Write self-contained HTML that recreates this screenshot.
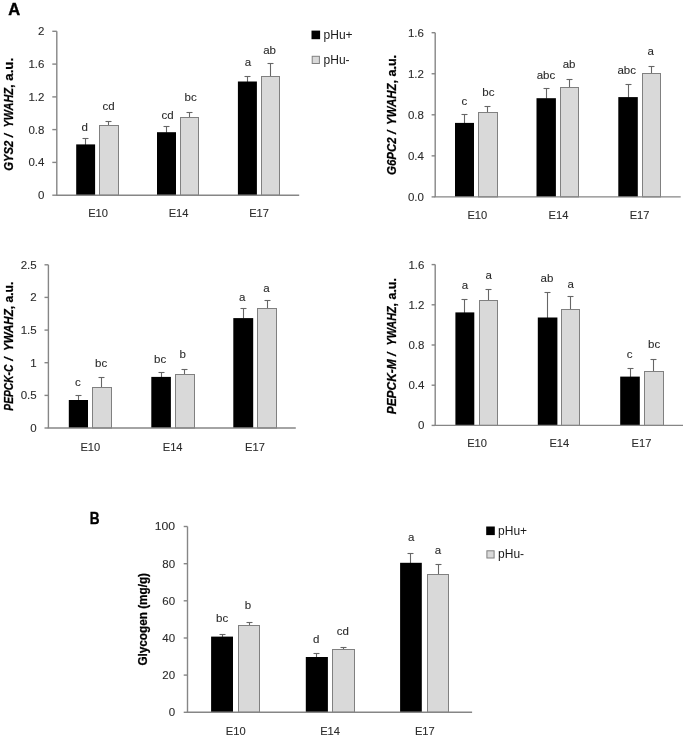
<!DOCTYPE html>
<html><head><meta charset="utf-8"><style>
html,body{margin:0;padding:0;background:#fff;}
body{width:685px;height:737px;overflow:hidden;}
svg{display:block;filter:grayscale(1);}
text{font-family:"Liberation Sans",sans-serif;}
.t{font-size:11.5px;fill:#2b2b2b;stroke:#2b2b2b;stroke-width:0.1px;}
.lg{font-size:12px;fill:#1a1a1a;}
.yt{font-size:12px;font-weight:bold;fill:#000;stroke:#000;stroke-width:0.25px;}
.pl{font-size:16.5px;font-weight:bold;fill:#000;stroke:#000;stroke-width:0.4px;}
.ax{stroke:#868686;stroke-width:1.4;fill:none;}
.e{stroke:#666666;stroke-width:1.1;fill:none;}
.g{fill:#d9d9d9;stroke:#808080;stroke-width:1;}
</style></head><body>
<svg width="685" height="737" viewBox="0 0 685 737">
<rect width="685" height="737" fill="#fff"/>
<line x1="52.3" y1="31.3" x2="56.8" y2="31.3" class="ax"/>
<text x="44.4" y="35.3" text-anchor="end" class="t">2</text>
<line x1="52.3" y1="64.1" x2="56.8" y2="64.1" class="ax"/>
<text x="44.4" y="68.1" text-anchor="end" class="t">1.6</text>
<line x1="52.3" y1="96.9" x2="56.8" y2="96.9" class="ax"/>
<text x="44.4" y="100.9" text-anchor="end" class="t">1.2</text>
<line x1="52.3" y1="129.6" x2="56.8" y2="129.6" class="ax"/>
<text x="44.4" y="133.6" text-anchor="end" class="t">0.8</text>
<line x1="52.3" y1="162.4" x2="56.8" y2="162.4" class="ax"/>
<text x="44.4" y="166.4" text-anchor="end" class="t">0.4</text>
<line x1="52.3" y1="195.2" x2="56.8" y2="195.2" class="ax"/>
<text x="44.4" y="199.2" text-anchor="end" class="t">0</text>
<line x1="85.5" y1="138.5" x2="85.5" y2="144.9" class="e"/>
<line x1="82.5" y1="138.5" x2="88.5" y2="138.5" class="e"/>
<rect x="76.2" y="144.4" width="18.9" height="50.8" fill="#000"/>
<text x="84.6" y="130.6" text-anchor="middle" class="t">d</text>
<line x1="108.5" y1="121.5" x2="108.5" y2="125.4" class="e"/>
<line x1="105.5" y1="121.5" x2="111.5" y2="121.5" class="e"/>
<rect x="99.5" y="125.5" width="19" height="69.7" class="g"/>
<text x="108.5" y="110.3" text-anchor="middle" class="t">cd</text>
<line x1="166.5" y1="126.5" x2="166.5" y2="132.7" class="e"/>
<line x1="163.5" y1="126.5" x2="169.5" y2="126.5" class="e"/>
<rect x="157" y="132.2" width="19" height="63" fill="#000"/>
<text x="167.7" y="118.5" text-anchor="middle" class="t">cd</text>
<line x1="189.5" y1="112.5" x2="189.5" y2="117.5" class="e"/>
<line x1="186.5" y1="112.5" x2="192.5" y2="112.5" class="e"/>
<rect x="180.5" y="117.5" width="18" height="77.7" class="g"/>
<text x="190.7" y="101" text-anchor="middle" class="t">bc</text>
<line x1="247.5" y1="76.5" x2="247.5" y2="82" class="e"/>
<line x1="244.5" y1="76.5" x2="250.5" y2="76.5" class="e"/>
<rect x="237.9" y="81.5" width="19" height="113.7" fill="#000"/>
<text x="248" y="66.2" text-anchor="middle" class="t">a</text>
<line x1="270.5" y1="63.5" x2="270.5" y2="76.9" class="e"/>
<line x1="267.5" y1="63.5" x2="273.5" y2="63.5" class="e"/>
<rect x="261.5" y="76.5" width="18" height="118.7" class="g"/>
<text x="269.6" y="53.7" text-anchor="middle" class="t">ab</text>
<line x1="56.8" y1="31.3" x2="56.8" y2="195.2" class="ax"/>
<line x1="56.1" y1="195.2" x2="299.2" y2="195.2" class="ax"/>
<text x="98.1" y="216.8" text-anchor="middle" class="t" textLength="19.8" lengthAdjust="spacingAndGlyphs">E10</text>
<text x="178.6" y="216.8" text-anchor="middle" class="t" textLength="19.8" lengthAdjust="spacingAndGlyphs">E14</text>
<text x="259.1" y="216.8" text-anchor="middle" class="t" textLength="19.8" lengthAdjust="spacingAndGlyphs">E17</text>
<text transform="translate(12.8,0) rotate(-90)" x="-170.7" y="0" class="yt" font-style="italic" textLength="30" lengthAdjust="spacingAndGlyphs">GYS2</text>
<text transform="translate(12.8,0) rotate(-90)" x="-135.6" y="0" class="yt" font-style="italic" text-anchor="middle">/</text>
<text transform="translate(12.8,0) rotate(-90)" x="-127.5" y="0" class="yt" font-style="italic" textLength="39.5" lengthAdjust="spacingAndGlyphs">YWAHZ</text>
<text transform="translate(12.8,0) rotate(-90)" x="-88" y="0" class="yt" textLength="30.1" lengthAdjust="spacingAndGlyphs">, a.u.</text>
<line x1="431.6" y1="32.7" x2="435.2" y2="32.7" class="ax"/>
<text x="423.9" y="36.7" text-anchor="end" class="t">1.6</text>
<line x1="431.6" y1="73.75" x2="435.2" y2="73.75" class="ax"/>
<text x="423.9" y="77.75" text-anchor="end" class="t">1.2</text>
<line x1="431.6" y1="114.8" x2="435.2" y2="114.8" class="ax"/>
<text x="423.9" y="118.8" text-anchor="end" class="t">0.8</text>
<line x1="431.6" y1="155.85" x2="435.2" y2="155.85" class="ax"/>
<text x="423.9" y="159.85" text-anchor="end" class="t">0.4</text>
<line x1="431.6" y1="196.9" x2="435.2" y2="196.9" class="ax"/>
<text x="423.9" y="200.9" text-anchor="end" class="t">0.0</text>
<line x1="464.5" y1="114.5" x2="464.5" y2="123.4" class="e"/>
<line x1="461.5" y1="114.5" x2="467.5" y2="114.5" class="e"/>
<rect x="455" y="122.9" width="19" height="74" fill="#000"/>
<text x="464.3" y="105.3" text-anchor="middle" class="t">c</text>
<line x1="487.5" y1="106.5" x2="487.5" y2="113" class="e"/>
<line x1="484.5" y1="106.5" x2="490.5" y2="106.5" class="e"/>
<rect x="478.5" y="112.5" width="19" height="84.4" class="g"/>
<text x="488.4" y="95.5" text-anchor="middle" class="t">bc</text>
<line x1="546.5" y1="88.5" x2="546.5" y2="98.7" class="e"/>
<line x1="543.5" y1="88.5" x2="549.5" y2="88.5" class="e"/>
<rect x="536.5" y="98.2" width="19.4" height="98.7" fill="#000"/>
<text x="546" y="79.2" text-anchor="middle" class="t">abc</text>
<line x1="569.5" y1="79.5" x2="569.5" y2="87.9" class="e"/>
<line x1="566.5" y1="79.5" x2="572.5" y2="79.5" class="e"/>
<rect x="560.5" y="87.5" width="18" height="109.4" class="g"/>
<text x="569.1" y="68.4" text-anchor="middle" class="t">ab</text>
<line x1="628.5" y1="84.5" x2="628.5" y2="97.6" class="e"/>
<line x1="625.5" y1="84.5" x2="631.5" y2="84.5" class="e"/>
<rect x="618.3" y="97.1" width="19.5" height="99.8" fill="#000"/>
<text x="626.7" y="74.1" text-anchor="middle" class="t">abc</text>
<line x1="651.5" y1="66.5" x2="651.5" y2="73.9" class="e"/>
<line x1="648.5" y1="66.5" x2="654.5" y2="66.5" class="e"/>
<rect x="642.5" y="73.5" width="18" height="123.4" class="g"/>
<text x="650.6" y="55.4" text-anchor="middle" class="t">a</text>
<line x1="435.2" y1="32.7" x2="435.2" y2="196.9" class="ax"/>
<line x1="434.5" y1="196.9" x2="680.7" y2="196.9" class="ax"/>
<text x="477.3" y="219.3" text-anchor="middle" class="t" textLength="19.8" lengthAdjust="spacingAndGlyphs">E10</text>
<text x="558.5" y="219.3" text-anchor="middle" class="t" textLength="19.8" lengthAdjust="spacingAndGlyphs">E14</text>
<text x="639.6" y="219.3" text-anchor="middle" class="t" textLength="19.8" lengthAdjust="spacingAndGlyphs">E17</text>
<text transform="translate(396,0) rotate(-90)" x="-174.9" y="0" class="yt" font-style="italic" textLength="37.5" lengthAdjust="spacingAndGlyphs">G6PC2</text>
<text transform="translate(396,0) rotate(-90)" x="-132.3" y="0" class="yt" font-style="italic" text-anchor="middle">/</text>
<text transform="translate(396,0) rotate(-90)" x="-124.9" y="0" class="yt" font-style="italic" textLength="41.3" lengthAdjust="spacingAndGlyphs">YWAHZ</text>
<text transform="translate(396,0) rotate(-90)" x="-83.6" y="0" class="yt" textLength="28.7" lengthAdjust="spacingAndGlyphs">, a.u.</text>
<line x1="44.5" y1="264.8" x2="48.4" y2="264.8" class="ax"/>
<text x="36.7" y="268.8" text-anchor="end" class="t">2.5</text>
<line x1="44.5" y1="297.4" x2="48.4" y2="297.4" class="ax"/>
<text x="36.7" y="301.4" text-anchor="end" class="t">2</text>
<line x1="44.5" y1="330.1" x2="48.4" y2="330.1" class="ax"/>
<text x="36.7" y="334.1" text-anchor="end" class="t">1.5</text>
<line x1="44.5" y1="362.7" x2="48.4" y2="362.7" class="ax"/>
<text x="36.7" y="366.7" text-anchor="end" class="t">1</text>
<line x1="44.5" y1="395.4" x2="48.4" y2="395.4" class="ax"/>
<text x="36.7" y="399.4" text-anchor="end" class="t">0.5</text>
<line x1="44.5" y1="428" x2="48.4" y2="428" class="ax"/>
<text x="36.7" y="432" text-anchor="end" class="t">0</text>
<line x1="78.5" y1="395.5" x2="78.5" y2="400.5" class="e"/>
<line x1="75.5" y1="395.5" x2="81.5" y2="395.5" class="e"/>
<rect x="68.8" y="400" width="19.2" height="28" fill="#000"/>
<text x="77.8" y="385.5" text-anchor="middle" class="t">c</text>
<line x1="101.5" y1="377.5" x2="101.5" y2="388" class="e"/>
<line x1="98.5" y1="377.5" x2="104.5" y2="377.5" class="e"/>
<rect x="92.5" y="387.5" width="19" height="40.5" class="g"/>
<text x="101.1" y="367.4" text-anchor="middle" class="t">bc</text>
<line x1="161.5" y1="372.5" x2="161.5" y2="377.4" class="e"/>
<line x1="158.5" y1="372.5" x2="164.5" y2="372.5" class="e"/>
<rect x="151.3" y="376.9" width="19.6" height="51.1" fill="#000"/>
<text x="160.1" y="363.3" text-anchor="middle" class="t">bc</text>
<line x1="184.5" y1="369.5" x2="184.5" y2="375.1" class="e"/>
<line x1="181.5" y1="369.5" x2="187.5" y2="369.5" class="e"/>
<rect x="175.5" y="374.5" width="19" height="53.5" class="g"/>
<text x="182.8" y="357.9" text-anchor="middle" class="t">b</text>
<line x1="243.5" y1="308.5" x2="243.5" y2="318.6" class="e"/>
<line x1="240.5" y1="308.5" x2="246.5" y2="308.5" class="e"/>
<rect x="233.3" y="318.1" width="19.9" height="109.9" fill="#000"/>
<text x="242.3" y="300.5" text-anchor="middle" class="t">a</text>
<line x1="267.5" y1="300.5" x2="267.5" y2="309.1" class="e"/>
<line x1="264.5" y1="300.5" x2="270.5" y2="300.5" class="e"/>
<rect x="257.5" y="308.5" width="19" height="119.5" class="g"/>
<text x="266.4" y="291.6" text-anchor="middle" class="t">a</text>
<line x1="48.4" y1="264.8" x2="48.4" y2="428" class="ax"/>
<line x1="47.7" y1="428" x2="295.8" y2="428" class="ax"/>
<text x="90.35" y="450.6" text-anchor="middle" class="t" textLength="19.8" lengthAdjust="spacingAndGlyphs">E10</text>
<text x="172.65" y="450.6" text-anchor="middle" class="t" textLength="19.8" lengthAdjust="spacingAndGlyphs">E14</text>
<text x="255" y="450.6" text-anchor="middle" class="t" textLength="19.8" lengthAdjust="spacingAndGlyphs">E17</text>
<text transform="translate(12.8,0) rotate(-90)" x="-410.7" y="0" class="yt" font-style="italic" textLength="46.1" lengthAdjust="spacingAndGlyphs">PEPCK-C</text>
<text transform="translate(12.8,0) rotate(-90)" x="-359.1" y="0" class="yt" font-style="italic" text-anchor="middle">/</text>
<text transform="translate(12.8,0) rotate(-90)" x="-351" y="0" class="yt" font-style="italic" textLength="41.8" lengthAdjust="spacingAndGlyphs">YWAHZ</text>
<text transform="translate(12.8,0) rotate(-90)" x="-309.2" y="0" class="yt" textLength="27.5" lengthAdjust="spacingAndGlyphs">, a.u.</text>
<line x1="431.6" y1="264.6" x2="435.2" y2="264.6" class="ax"/>
<text x="424.4" y="268.6" text-anchor="end" class="t">1.6</text>
<line x1="431.6" y1="304.8" x2="435.2" y2="304.8" class="ax"/>
<text x="424.4" y="308.8" text-anchor="end" class="t">1.2</text>
<line x1="431.6" y1="345" x2="435.2" y2="345" class="ax"/>
<text x="424.4" y="349" text-anchor="end" class="t">0.8</text>
<line x1="431.6" y1="385.2" x2="435.2" y2="385.2" class="ax"/>
<text x="424.4" y="389.2" text-anchor="end" class="t">0.4</text>
<line x1="431.6" y1="425.4" x2="435.2" y2="425.4" class="ax"/>
<text x="424.4" y="429.4" text-anchor="end" class="t">0</text>
<line x1="464.5" y1="299.5" x2="464.5" y2="312.9" class="e"/>
<line x1="461.5" y1="299.5" x2="467.5" y2="299.5" class="e"/>
<rect x="455.4" y="312.4" width="18.9" height="113" fill="#000"/>
<text x="464.9" y="289.1" text-anchor="middle" class="t">a</text>
<line x1="488.5" y1="289.5" x2="488.5" y2="300.4" class="e"/>
<line x1="485.5" y1="289.5" x2="491.5" y2="289.5" class="e"/>
<rect x="479.5" y="300.5" width="18" height="124.9" class="g"/>
<text x="488.6" y="279.1" text-anchor="middle" class="t">a</text>
<line x1="547.5" y1="292.5" x2="547.5" y2="318" class="e"/>
<line x1="544.5" y1="292.5" x2="550.5" y2="292.5" class="e"/>
<rect x="537.8" y="317.5" width="19.6" height="107.9" fill="#000"/>
<text x="547" y="281.6" text-anchor="middle" class="t">ab</text>
<line x1="570.5" y1="296.5" x2="570.5" y2="309.8" class="e"/>
<line x1="567.5" y1="296.5" x2="573.5" y2="296.5" class="e"/>
<rect x="561.5" y="309.5" width="18" height="115.9" class="g"/>
<text x="570.7" y="287.7" text-anchor="middle" class="t">a</text>
<line x1="630.5" y1="368.5" x2="630.5" y2="377.1" class="e"/>
<line x1="627.5" y1="368.5" x2="633.5" y2="368.5" class="e"/>
<rect x="620.2" y="376.6" width="19.6" height="48.8" fill="#000"/>
<text x="629.6" y="357.9" text-anchor="middle" class="t">c</text>
<line x1="653.5" y1="359.5" x2="653.5" y2="372.1" class="e"/>
<line x1="650.5" y1="359.5" x2="656.5" y2="359.5" class="e"/>
<rect x="644.5" y="371.5" width="19" height="53.9" class="g"/>
<text x="654.2" y="348.4" text-anchor="middle" class="t">bc</text>
<line x1="435.2" y1="264.6" x2="435.2" y2="425.4" class="ax"/>
<line x1="434.5" y1="425.4" x2="683" y2="425.4" class="ax"/>
<text x="477.1" y="447.4" text-anchor="middle" class="t" textLength="19.8" lengthAdjust="spacingAndGlyphs">E10</text>
<text x="559.3" y="447.4" text-anchor="middle" class="t" textLength="19.8" lengthAdjust="spacingAndGlyphs">E14</text>
<text x="641.5" y="447.4" text-anchor="middle" class="t" textLength="19.8" lengthAdjust="spacingAndGlyphs">E17</text>
<text transform="translate(396,0) rotate(-90)" x="-414.3" y="0" class="yt" font-style="italic" textLength="55" lengthAdjust="spacingAndGlyphs">PEPCK-M</text>
<text transform="translate(396,0) rotate(-90)" x="-354.45" y="0" class="yt" font-style="italic" text-anchor="middle">/</text>
<text transform="translate(396,0) rotate(-90)" x="-345.6" y="0" class="yt" font-style="italic" textLength="39.2" lengthAdjust="spacingAndGlyphs">YWAHZ</text>
<text transform="translate(396,0) rotate(-90)" x="-306.4" y="0" class="yt" textLength="28.3" lengthAdjust="spacingAndGlyphs">, a.u.</text>
<line x1="183.7" y1="526.5" x2="187.5" y2="526.5" class="ax"/>
<text x="175.1" y="530.4" text-anchor="end" class="t" textLength="20.4" lengthAdjust="spacingAndGlyphs">100</text>
<line x1="183.7" y1="563.7" x2="187.5" y2="563.7" class="ax"/>
<text x="175.1" y="567.6" text-anchor="end" class="t">80</text>
<line x1="183.7" y1="600.8" x2="187.5" y2="600.8" class="ax"/>
<text x="175.1" y="604.7" text-anchor="end" class="t">60</text>
<line x1="183.7" y1="638" x2="187.5" y2="638" class="ax"/>
<text x="175.1" y="641.9" text-anchor="end" class="t">40</text>
<line x1="183.7" y1="675.1" x2="187.5" y2="675.1" class="ax"/>
<text x="175.1" y="679" text-anchor="end" class="t">20</text>
<line x1="183.7" y1="712.3" x2="187.5" y2="712.3" class="ax"/>
<text x="175.1" y="716.2" text-anchor="end" class="t">0</text>
<line x1="222.5" y1="634.5" x2="222.5" y2="637.1" class="e"/>
<line x1="219.5" y1="634.5" x2="225.5" y2="634.5" class="e"/>
<rect x="211.1" y="636.6" width="21.9" height="75.7" fill="#000"/>
<text x="222.2" y="622.1" text-anchor="middle" class="t">bc</text>
<line x1="249.5" y1="622.5" x2="249.5" y2="626.2" class="e"/>
<line x1="246.5" y1="622.5" x2="252.5" y2="622.5" class="e"/>
<rect x="238.5" y="625.5" width="21" height="86.8" class="g"/>
<text x="248" y="609.4" text-anchor="middle" class="t">b</text>
<line x1="316.5" y1="653.5" x2="316.5" y2="657.5" class="e"/>
<line x1="313.5" y1="653.5" x2="319.5" y2="653.5" class="e"/>
<rect x="305.8" y="657" width="22.1" height="55.3" fill="#000"/>
<text x="316.2" y="642.8" text-anchor="middle" class="t">d</text>
<line x1="343.5" y1="647.5" x2="343.5" y2="649.7" class="e"/>
<line x1="340.5" y1="647.5" x2="346.5" y2="647.5" class="e"/>
<rect x="332.5" y="649.5" width="22" height="62.8" class="g"/>
<text x="342.8" y="634.6" text-anchor="middle" class="t">cd</text>
<line x1="410.5" y1="553.5" x2="410.5" y2="563.3" class="e"/>
<line x1="407.5" y1="553.5" x2="413.5" y2="553.5" class="e"/>
<rect x="400.1" y="562.8" width="21.7" height="149.5" fill="#000"/>
<text x="411.1" y="541.3" text-anchor="middle" class="t">a</text>
<line x1="438.5" y1="564.5" x2="438.5" y2="574.7" class="e"/>
<line x1="435.5" y1="564.5" x2="441.5" y2="564.5" class="e"/>
<rect x="427.5" y="574.5" width="21" height="137.8" class="g"/>
<text x="438" y="553.9" text-anchor="middle" class="t">a</text>
<line x1="187.5" y1="526.5" x2="187.5" y2="712.3" class="ax"/>
<line x1="186.8" y1="712.3" x2="472.1" y2="712.3" class="ax"/>
<text x="235.75" y="734.5" text-anchor="middle" class="t" textLength="19.8" lengthAdjust="spacingAndGlyphs">E10</text>
<text x="330.1" y="734.5" text-anchor="middle" class="t" textLength="19.8" lengthAdjust="spacingAndGlyphs">E14</text>
<text x="424.85" y="734.5" text-anchor="middle" class="t" textLength="19.8" lengthAdjust="spacingAndGlyphs">E17</text>
<text transform="translate(147,619.3) rotate(-90)" text-anchor="middle" class="yt" textLength="92.6" lengthAdjust="spacingAndGlyphs">Glycogen (mg/g)</text>
<rect x="311.5" y="30.6" width="8.6" height="8.6" fill="#000"/>
<rect x="312.2" y="56.3" width="7.2" height="7.2" class="g"/>
<text x="323.6" y="38.9" class="lg">pHu+</text>
<text x="323.6" y="63.9" class="lg">pHu-</text>
<rect x="486.2" y="526.5" width="8.6" height="8.6" fill="#000"/>
<rect x="486.9" y="550.8" width="7.2" height="7.2" class="g"/>
<text x="498.1" y="534.8" class="lg">pHu+</text>
<text x="498.1" y="558.4" class="lg">pHu-</text>
<text x="8.3" y="14.6" class="pl">A</text>
<text x="89.8" y="524" class="pl" textLength="9.8" lengthAdjust="spacingAndGlyphs">B</text>
</svg>
</body></html>
